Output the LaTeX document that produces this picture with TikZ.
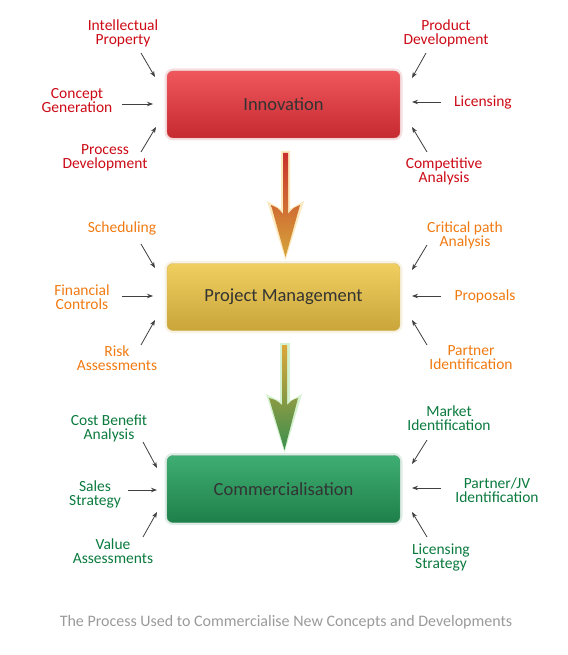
\documentclass[tikz,border=0pt]{standalone}
\usepackage{fontspec}
\setmainfont{Carlito}
\usetikzlibrary{arrows.meta}
\definecolor{tred}{HTML}{CC0A16}
\definecolor{torange}{HTML}{F07A12}
\definecolor{tgreen}{HTML}{0B7A3E}
\definecolor{tcap}{HTML}{9A9A9A}
\definecolor{rtop}{HTML}{F0575C}
\definecolor{rmid}{HTML}{F77378}
\definecolor{rbot}{HTML}{C42A30}
\definecolor{ytop}{HTML}{F0CF60}
\definecolor{ymid}{HTML}{F6DB7A}
\definecolor{ybot}{HTML}{C9A53A}
\definecolor{gtop}{HTML}{3FAE72}
\definecolor{gmid}{HTML}{5CC48C}
\definecolor{gbot}{HTML}{1E7F4A}
\definecolor{a1top}{HTML}{C9302C}
\definecolor{a1bot}{HTML}{D6A63A}
\definecolor{a2top}{HTML}{DDA63A}
\definecolor{a2bot}{HTML}{3A8F4E}
\definecolor{glow1}{HTML}{F8D890}
\definecolor{glow2}{HTML}{B8E8B0}
\tikzset{
  lbl/.style={align=center, font=\fontsize{15.5}{14}\selectfont, inner sep=0pt},
  redl/.style={lbl, text=tred},
  orl/.style={lbl, text=torange},
  grl/.style={lbl, text=tgreen},
  sm/.style={draw=black!75, line width=0.8pt, -{Stealth[length=6pt,width=4.5pt]}},
  box/.style={minimum width=233pt, minimum height=67pt, rounded corners=6pt,
    font=\fontsize{18.5}{20}\selectfont, text=black!80, inner sep=0pt}
}
\begin{document}
\begin{tikzpicture}[x=1pt,y=-1pt]
\useasboundingbox (0,0) rectangle (567,655);
% soft halos round the boxes
\foreach \c/\y in {rbot/104.5, ybot/297, gbot/489}
  \draw[\c, opacity=0.15, line width=3pt, rounded corners=7pt] (166,\y-34.5) rectangle (401,\y+34.5);
% boxes
\node[box, draw=rbot!70, top color=rtop, middle color=rmid, bottom color=rbot] (inn) at (283.5,104.5) {Innovation};
\node[box, draw=ybot!80, top color=ytop, middle color=ymid, bottom color=ybot] (pm) at (283.5,297) {Project Management};
\node[box, draw=gbot!80, top color=gtop, middle color=gmid, bottom color=gbot] (com) at (283.5,489) {Commercialisation};

% big arrows
\fill[glow1, opacity=0.6] (281,151) -- (290,151) -- (290,209) -- (304,201) -- (285.5,260) -- (267,201) -- (281,209) -- cycle;
\shade[top color=a1top, bottom color=a1bot] (283,153) -- (288,153) -- (288,214) .. controls (293,208) .. (300,205) -- (285.5,257) -- (271,205) .. controls (278,208) .. (283,214) -- cycle;
\fill[glow2, opacity=0.6] (280,343) -- (290,343) -- (290,401) -- (302,394) -- (284.5,453) -- (266,394) -- (280,401) -- cycle;
\shade[top color=a2top, bottom color=a2bot] (282,345) -- (287,345) -- (287,405) .. controls (292,400) .. (298,398) -- (284.5,450) -- (269,398) .. controls (276,400) .. (282,405) -- cycle;

% Innovation labels
\node[redl] (l1) at (123,33) {Intellectual\\Property};
\node[redl] (l2) at (77,101) {Concept\\Generation};
\node[redl] (l3) at (105,158) {Process\\Development};
\node[redl] (r1) at (446,33) {Product\\Development};
\node[redl] (r2) at (483,103) {Licensing};
\node[redl] (r3) at (444,171) {Competitive\\Analysis};
\coordinate (l1s) at (141,53); \coordinate (l1e) at (155,77);
\coordinate (l2s) at (122,104); \coordinate (l2e) at (153,104);
\coordinate (l3s) at (141,152); \coordinate (l3e) at (156,127);
\coordinate (r1s) at (426,53); \coordinate (r1e) at (412,78);
\coordinate (r2s) at (441,102); \coordinate (r2e) at (412,102);
\coordinate (r3s) at (427,152); \coordinate (r3e) at (412,127);

% PM labels
\node[orl] (l4) at (122,228) {Scheduling};
\node[orl] (l5) at (82,297) {Financial\\Controls};
\node[orl] (l6) at (117,358) {Risk\\Assessments};
\node[orl] (r4) at (465,235) {Critical path\\Analysis};
\node[orl] (r5) at (485,296) {Proposals};
\node[orl] (r6) at (471,358) {Partner\\Identification};
\coordinate (l4s) at (141,244); \coordinate (l4e) at (155,268);
\coordinate (l5s) at (122,296); \coordinate (l5e) at (153,296);
\coordinate (l6s) at (141,345); \coordinate (l6e) at (155,320);
\coordinate (r4s) at (427,245); \coordinate (r4e) at (412,270);
\coordinate (r5s) at (441,296); \coordinate (r5e) at (412,296);
\coordinate (r6s) at (427,345); \coordinate (r6e) at (412,320);

% Commercialisation labels
\node[grl] (l7) at (109,428) {Cost Benefit\\Analysis};
\node[grl] (l8) at (95,494) {Sales\\Strategy};
\node[grl] (l9) at (113,551) {Value\\Assessments};
\node[grl] (r7) at (449,418) {Market\\Identification};
\node[grl] (r8) at (497,490) {Partner/JV\\Identification};
\node[grl] (r9) at (441,557) {Licensing\\Strategy};
\coordinate (l7s) at (143,442); \coordinate (l7e) at (157,468);
\coordinate (l8s) at (128,490); \coordinate (l8e) at (157,490);
\coordinate (l9s) at (143,537); \coordinate (l9e) at (157,512);
\coordinate (r7s) at (427,440); \coordinate (r7e) at (412,464);
\coordinate (r8s) at (441,488); \coordinate (r8e) at (412,488);
\coordinate (r9s) at (427,537); \coordinate (r9e) at (412,512);

\foreach \a in {l1,l2,l3,r1,r2,r3,l4,l5,l6,r4,r5,r6,l7,l8,l9,r7,r8,r9}
  \draw[sm] (\a s) -- (\a e);

\node[font=\fontsize{16}{18}\selectfont, text=tcap, inner sep=0pt] (cap) at (286,622) {The Process Used to Commercialise New Concepts and Developments};
\end{tikzpicture}
\end{document}
